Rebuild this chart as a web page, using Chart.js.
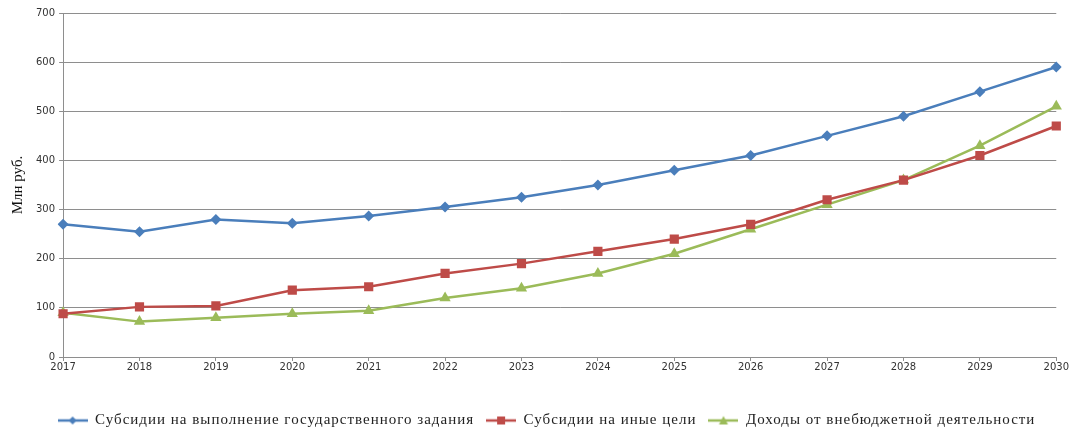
<!DOCTYPE html>
<html>
<head>
<meta charset="utf-8">
<script src="https://cdn.jsdelivr.net/npm/chart.js@4.4.0/dist/chart.umd.min.js"></script>
<style>
  html, body { margin: 0; padding: 0; background: #fff; }
  #wrap { width: 1069px; height: 428px; }
</style>
</head>
<body>
<div id="wrap"><canvas id="chart"></canvas></div>
<script>
// Данные графика
const years = ['2017', '2018', '2019', '2020', '2021', '2022', '2023', '2024', '2025', '2026', '2027', '2028', '2029', '2030'];
const subsidiesTask = [270, 255, 280, 272, 287, 305, 325, 350, 380, 410, 450, 490, 540, 590];
const subsidiesOther = [88, 102, 104, 136, 143, 170, 190, 215, 240, 270, 320, 360, 410, 470];
const extraIncome = [90, 72, 80, 88, 94, 120, 140, 170, 210, 260, 310, 360, 430, 510];
const seriesNames = [
    'Субсидии на выполнение государственного задания',
    'Субсидии на иные цели',
    'Доходы от внебюджетной деятельности'
];

const colors = {
    blue: '#4a7ebb',
    red: '#be4b48',
    green: '#9bbb59',
    grid: '#8e8e8e'
};

// Значок легенды: линия с маркером посередине
function legendIcon(color, style) {
    var c = document.createElement('canvas');
    c.width = 30; c.height = 12;
    var ctx = c.getContext('2d');
    ctx.strokeStyle = color;
    ctx.lineWidth = 2.5;
    ctx.beginPath();
    ctx.moveTo(0, 6); ctx.lineTo(30, 6);
    ctx.stroke();
    ctx.fillStyle = color;
    ctx.beginPath();
    if (style === 'rectRot') {
        ctx.moveTo(15, 2); ctx.lineTo(19, 6); ctx.lineTo(15, 10); ctx.lineTo(11, 6);
    } else if (style === 'rect') {
        ctx.rect(11, 2, 8, 8);
    } else {
        ctx.moveTo(15, 1.5); ctx.lineTo(19.5, 10); ctx.lineTo(10.5, 10);
    }
    ctx.closePath();
    ctx.fill();
    return c;
}

function makeSet(label, data, color, style, radius) {
    return {
        label: label,
        data: data,
        borderColor: color,
        backgroundColor: color,
        borderWidth: 2.5,
        pointStyle: style,
        pointRadius: radius,
        pointHoverRadius: radius,
        pointBorderWidth: 0,
        tension: 0,
        fill: false,
        legendIcon: legendIcon(color, style)
    };
}

// Разрядка текста легенды (как в исходном документе) и фиксированная высота
const legendSpacing = {
    id: 'legendSpacing',
    afterInit: function (chart) {
        var L = chart.legend;
        if (!L) return;
        var fit = L.fit.bind(L);
        var draw = L.draw.bind(L);
        L.fit = function () {
            chart.ctx.letterSpacing = '1px';
            fit();
            chart.ctx.letterSpacing = '0px';
            if (L.isHorizontal()) L.height = 27;
        };
        L.draw = function () {
            var ctx = chart.ctx;
            ctx.save();
            ctx.translate(12, 0);
            ctx.letterSpacing = '1px';
            draw();
            ctx.restore();
            ctx.letterSpacing = '0px';
        };
    }
};

new Chart(document.getElementById('chart'), {
    type: 'line',
    data: {
        labels: years,
        datasets: [
            makeSet(seriesNames[0], subsidiesTask, colors.blue, 'rectRot', 5.5),
            makeSet(seriesNames[1], subsidiesOther, colors.red, 'rect', 6.5),
            makeSet(seriesNames[2], extraIncome, colors.green, 'triangle', 6.5)
        ]
    },
    plugins: [legendSpacing],
    options: {
        responsive: true,
        maintainAspectRatio: false,
        animation: false,
        layout: { padding: { left: 9, right: 9, top: 13, bottom: 0 } },
        scales: {
            x: {
                offset: false,
                grid: {
                    display: true,
                    drawOnChartArea: false,
                    drawTicks: true,
                    tickLength: 4,
                    color: colors.grid
                },
                border: { display: true, color: colors.grid, width: 1 },
                ticks: {
                    color: '#333',
                    font: { family: 'DejaVu Sans', size: 10 },
                    padding: 0,
                    maxRotation: 0,
                    autoSkip: false
                },
                afterFit: function (scale) { scale.height = 44; }
            },
            y: {
                min: 0,
                max: 700,
                ticks: {
                    stepSize: 100,
                    color: '#333',
                    font: { family: 'DejaVu Sans', size: 10 },
                    padding: 4
                },
                grid: {
                    color: colors.grid,
                    tickLength: 4,
                    lineWidth: 1
                },
                border: { display: true, color: colors.grid, width: 1 },
                title: {
                    display: true,
                    text: 'Млн руб.',
                    color: '#111',
                    font: { family: 'Liberation Serif', size: 15 },
                    padding: { top: 0, bottom: 5 }
                }
            }
        },
        plugins: {
            legend: {
                display: true,
                position: 'bottom',
                labels: {
                    color: '#222',
                    font: { family: 'Liberation Serif', size: 15 },
                    usePointStyle: true,
                    pointStyleWidth: 30,
                    boxHeight: 12,
                    padding: 12,
                    generateLabels: function (chart) {
                        return chart.data.datasets.map(function (ds, i) {
                            return {
                                text: ds.label,
                                fillStyle: ds.borderColor,
                                strokeStyle: ds.borderColor,
                                lineWidth: 0,
                                pointStyle: ds.legendIcon,
                                hidden: false,
                                datasetIndex: i,
                                fontColor: '#222'
                            };
                        });
                    }
                }
            },
            tooltip: { enabled: false }
        }
    }
});
</script>
</body>
</html>
